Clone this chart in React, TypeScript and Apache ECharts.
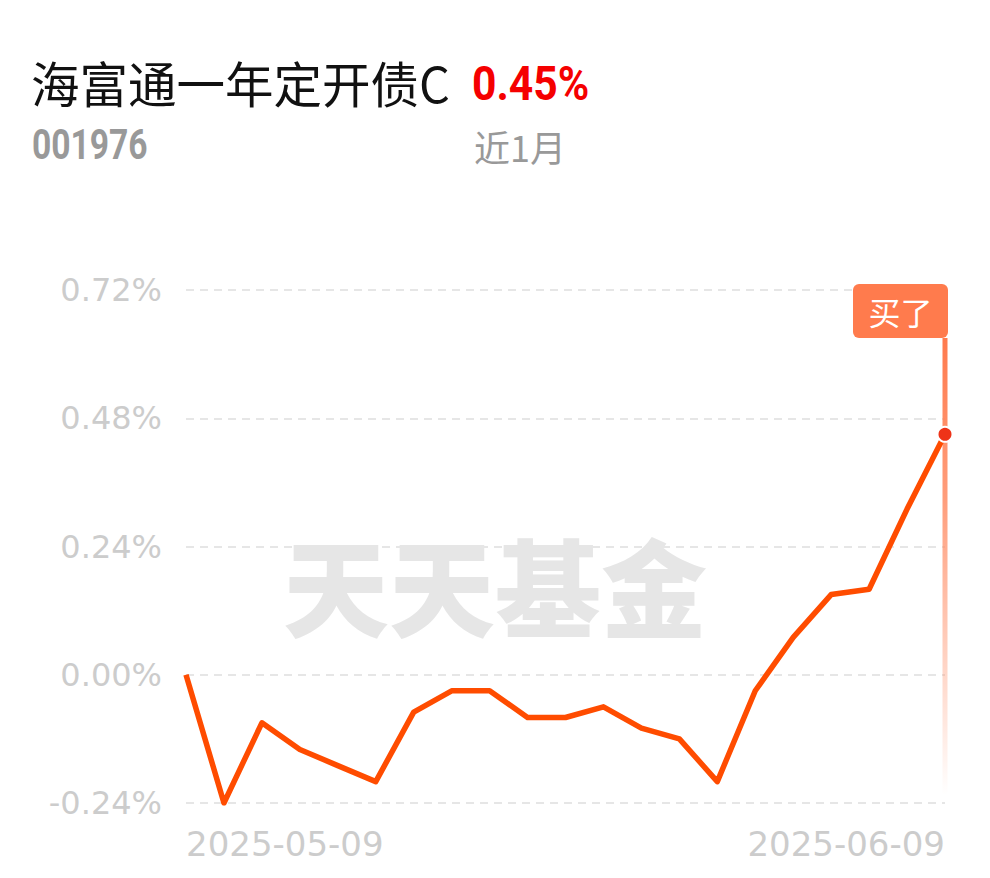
import React, { useEffect, useRef } from 'react';
import * as echarts from 'echarts';

const fundName = '海富通一年定开债C';
const fundCode = '001976';
const returnText = '0.45%';
const periodLabel = '近1月';
const watermarkText = '天天基金';
const badgeText = '买了';

const dates = [
  '2025-05-09', '2025-05-12', '2025-05-13', '2025-05-14', '2025-05-15', '2025-05-16',
  '2025-05-19', '2025-05-20', '2025-05-21', '2025-05-22', '2025-05-23',
  '2025-05-26', '2025-05-27', '2025-05-28', '2025-05-29', '2025-05-30',
  '2025-06-03', '2025-06-04', '2025-06-05', '2025-06-06', '2025-06-09',
];
const values = [
  0, -0.24, -0.09, -0.14, -0.17, -0.2, -0.07, -0.03, -0.03, -0.08, -0.08,
  -0.06, -0.1, -0.12, -0.2, -0.03, 0.07, 0.15, 0.16, 0.31, 0.45,
];
const yTicks = [-0.24, 0, 0.24, 0.48, 0.72];

const LABEL_FONT = '"DejaVu Sans", sans-serif';
const CJK_FONT = '"Noto Sans CJK SC", sans-serif';

export default function App() {
  const ref = useRef<HTMLDivElement>(null);

  useEffect(() => {
    document.body.style.margin = '0';
    const chart = echarts.init(ref.current!, null, { renderer: 'svg' });
    const last = values.length - 1;

    const option: any = {
      animation: false,
      backgroundColor: '#ffffff',
      grid: { left: 186, right: 45, top: 290, bottom: 75, containLabel: false },
      graphic: [
        {
          type: 'text', x: 31, y: 82, z: 10,
          style: { text: fundName, font: `400 48.5px ${CJK_FONT}`, fill: '#111111', verticalAlign: 'middle', align: 'left' },
        },
        {
          type: 'text', x: 472, y: 83, scaleX: 0.87, z: 10,
          style: { text: returnText, font: `700 49px Roboto, sans-serif`, fill: '#f50000', verticalAlign: 'middle', align: 'left' },
        },
        {
          type: 'text', x: 32, y: 145, scaleX: 0.8, z: 10,
          style: { text: fundCode, font: `700 42px Roboto, sans-serif`, fill: '#999999', verticalAlign: 'middle', align: 'left' },
        },
        {
          type: 'text', x: 474, y: 146, z: 10,
          style: { text: periodLabel, font: `400 36px ${CJK_FONT}`, fill: '#999999', verticalAlign: 'middle', align: 'left' },
        },
        {
          type: 'text', left: 'center', top: 530, z: -10,
          style: { text: watermarkText, font: `900 106px ${CJK_FONT}`, fill: '#e6e6e6' },
        },
      ],
      xAxis: {
        type: 'category',
        data: dates,
        boundaryGap: false,
        axisLine: { show: false },
        axisTick: { show: false },
        splitLine: { show: false },
        axisLabel: {
          interval: (i: number) => i === 0 || i === last,
          showMinLabel: true,
          showMaxLabel: true,
          alignMinLabel: 'left',
          alignMaxLabel: 'right',
          color: '#cccccc',
          fontSize: 34,
          fontFamily: LABEL_FONT,
          margin: 24,
        },
      },
      yAxis: {
        type: 'value',
        min: yTicks[0],
        max: yTicks[yTicks.length - 1],
        interval: yTicks[1] - yTicks[0],
        axisLine: { show: false },
        axisTick: { show: false },
        axisLabel: {
          color: '#cccccc',
          fontSize: 32,
          fontFamily: LABEL_FONT,
          margin: 24,
          formatter: (v: number) => (Math.abs(v) < 1e-9 ? 0 : v).toFixed(2) + '%',
        },
        splitLine: { lineStyle: { color: '#e6e6e6', width: 2, type: [8, 6] } },
      },
      series: [
        {
          type: 'custom',
          z: 1,
          silent: true,
          data: [[last, values[last]]],
          renderItem: (params: any, api: any) => {
            const pt = api.coord([api.value(0), api.value(1)]);
            const cs = params.coordSys;
            const bw = 95;
            const bh = 54;
            const top = cs.y - 6;
            const right = pt[0] + 3;
            const lineTop = top + bh;
            const lineBottom = cs.y + cs.height - 8;
            return {
              type: 'group',
              children: [
                {
                  type: 'rect',
                  shape: { x: pt[0] - 2.5, y: lineTop, width: 5, height: lineBottom - lineTop },
                  style: {
                    fill: new echarts.graphic.LinearGradient(0, 0, 0, 1, [
                      { offset: 0, color: 'rgba(255,122,77,1)' },
                      { offset: 0.35, color: 'rgba(255,140,100,0.85)' },
                      { offset: 1, color: 'rgba(255,140,100,0)' },
                    ]),
                  },
                },
                {
                  type: 'rect',
                  shape: { x: right - bw, y: top, width: bw, height: bh, r: 6 },
                  style: { fill: '#ff7b4d' },
                },
                {
                  type: 'text',
                  style: {
                    text: badgeText,
                    x: right - bw / 2,
                    y: top + bh / 2,
                    align: 'center',
                    verticalAlign: 'middle',
                    fill: '#ffffff',
                    font: `400 32px ${CJK_FONT}`,
                  },
                },
              ],
            };
          },
        },
        {
          type: 'line',
          z: 3,
          data: values,
          symbol: 'none',
          lineStyle: { color: '#ff4c00', width: 5.5, join: 'round' },
          itemStyle: { color: '#ff4c00' },
          markPoint: {
            symbol: 'circle',
            symbolSize: 15,
            silent: true,
            itemStyle: { color: '#ee3318', borderColor: '#ffffff', borderWidth: 2 },
            label: { show: false },
            data: [{ coord: [dates[last], values[last]] }],
          },
        },
      ],
    };

    chart.setOption(option);
    return () => chart.dispose();
  }, []);

  return <div ref={ref} style={{ width: 990, height: 878 }} />;
}
